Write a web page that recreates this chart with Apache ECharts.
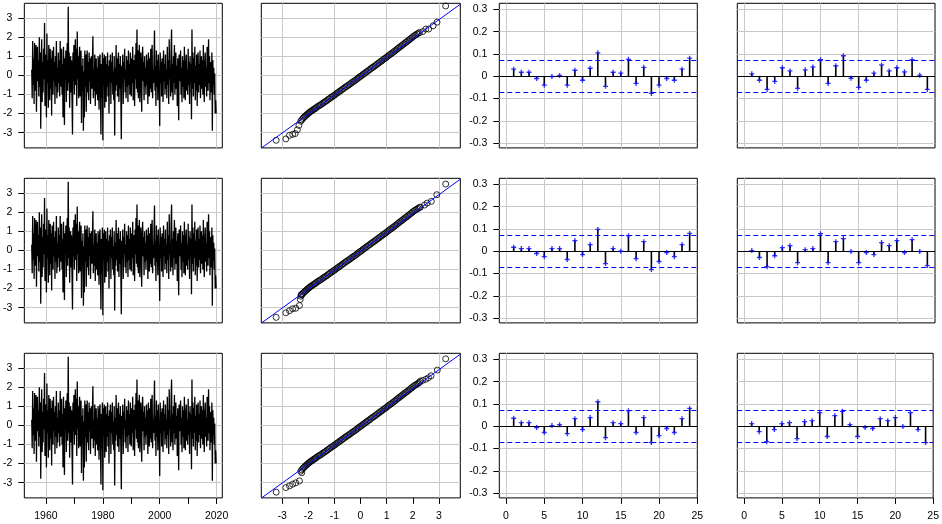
<!DOCTYPE html>
<html><head><meta charset="utf-8">
<script src="https://cdn.jsdelivr.net/npm/echarts@6.0.0/dist/echarts.min.js"></script>
<style>html,body{margin:0;padding:0;background:#fff}#c{width:942px;height:524px}</style>
</head><body><div id="c"></div>
<script>
// ---------- DATA ----------
const tsStart = 1955;      // first observation
const tsPerYear = 6;       // observations per year
const residuals = [
 0.3,-1.2,1.8,-0.5,0.9,-1.5,
 1.7,-0.8,0.2,1.6,-1.9,0.5,
 1.5,-0.3,0.8,-1.1,2.0,-0.6,
 1.2,-2.8,0.4,1.9,-1.4,0.7,
 -0.9,1.4,-0.2,2.75,-1.6,0.3,
 1.1,-2.2,2.2,-0.4,0.8,-1.7,
 1.6,0.2,-1.3,1.4,-0.7,0.9,
 -2.1,1.3,0.5,-1.0,1.5,-0.3,
 0.7,-1.5,1.0,-0.6,1.8,-1.2,
 0.4,-0.9,1.2,-0.4,0.8,-1.1,
 1.8,-0.6,0.3,1.4,-1.0,0.6,
 -2.2,1.5,-0.5,-2.6,0.9,-0.2,
 1.3,-1.4,0.6,1.7,-0.8,3.6,
 -0.4,1.2,-1.7,0.5,1.0,-0.9,
 0.8,-1.3,-3.1,1.2,-0.3,1.6,
 -1.0,0.7,1.9,-0.5,1.4,-1.6,
 2.3,-0.2,1.0,-1.2,0.6,1.5,
 -1.1,0.3,1.3,-2.5,0.5,-0.8,
 0.9,-2.9,0.2,-2.2,1.3,-0.6,
 1.1,-1.9,0.4,1.3,-0.9,0.7,
 -1.3,1.2,-0.3,0.9,-1.5,0.4,
 1.0,-0.7,0.6,2.05,-1.2,0.3,
 -0.8,1.1,-1.6,0.5,0.9,-1.0,
 0.4,-1.3,1.0,-0.2,-1.8,0.8,
 1.1,-0.9,-3.1,0.6,-1.2,1.2,
 -3.4,0.9,-0.5,1.1,-1.7,0.3,
 1.0,-1.4,0.6,-0.6,1.2,-1.1,
 0.5,-2.0,0.8,-0.3,1.1,-1.5,
 0.7,-0.4,1.2,-1.0,0.2,-1.3,
 1.0,-3.15,0.4,-0.8,1.6,-0.5,
 0.9,-1.1,0.3,1.2,-1.4,0.6,
 -0.7,1.0,-1.2,-3.35,0.5,-0.4,
 1.1,-1.5,0.7,-0.2,1.4,-0.9,
 0.3,-1.2,1.0,-0.6,0.8,-1.4,
 1.3,-0.5,0.6,-1.0,1.2,-0.3,
 -1.1,0.9,-0.4,1.5,-1.3,0.5,
 0.8,-1.6,1.1,-0.2,1.7,-0.7,
 2.4,-0.9,1.3,-1.2,0.6,1.6,
 -1.4,0.4,1.2,-0.8,-1.9,0.9,
 1.5,-0.3,0.7,-1.3,1.0,-0.6,
 0.4,-1.0,1.1,-0.5,0.8,-1.5,
 1.2,-0.2,-1.1,0.9,-0.7,1.4,
 -0.9,0.6,1.6,-1.2,0.3,-0.4,
 1.0,2.35,-0.8,0.5,-1.6,1.3,
 -0.6,0.8,-1.3,1.1,0.2,-0.9,
 -2.65,1.2,-0.4,0.7,-1.1,0.9,
 0.5,-1.4,1.3,-0.3,0.6,-1.0,
 1.1,-0.7,0.3,-1.2,1.5,-0.5,
 0.8,-1.5,1.9,-0.2,0.4,-1.1,
 1.4,2.4,-0.9,0.6,-1.3,1.0,
 -0.4,1.6,-1.0,0.3,1.2,-0.7,
 0.5,-1.6,0.9,-0.5,-2.35,1.1,
 0.7,-0.3,1.3,-1.0,0.4,-1.4,
 1.0,-0.6,0.8,-1.2,1.5,-0.2,
 -1.3,0.6,1.1,-0.8,0.3,-1.0,
 1.4,-0.5,0.7,-1.5,1.0,-0.3,
 0.6,-2.3,2.4,-0.7,1.2,-1.1,
 0.9,-0.4,1.5,-1.3,0.5,-0.8,
 1.1,-1.6,0.3,1.2,-0.9,0.6,
 -0.5,1.3,-1.2,0.4,1.0,-0.7,
 0.8,-1.0,1.6,-0.3,-1.4,0.5,
 1.2,-0.6,0.4,-1.1,1.5,-0.2,
 -0.8,1.9,-0.4,1.0,-1.3,0.7,
 0.3,-0.9,1.2,-2.9,0.8,-0.5,
 0.4,-1.0,0.1,-2.0,-1.3,-2.0
];

// normal QQ: [theoretical quantile, sample quantile]
const qqBand = [
 [-2.29,-2.40],[-2.25,-2.33],[-2.21,-2.26],[-2.17,-2.20],[-2.13,-2.15],[-2.09,-2.10],[-2.05,-2.05],[-2.01,-2.00],
 [-1.97,-1.96],[-1.93,-1.91],[-1.89,-1.87],[-1.85,-1.84],[-1.81,-1.80],[-1.77,-1.76],[-1.73,-1.73],[-1.69,-1.68],
 [-1.64,-1.63],[-1.59,-1.59],[-1.54,-1.55],[-1.49,-1.51],[-1.44,-1.45],[-1.39,-1.41],[-1.34,-1.36],[-1.29,-1.32],
 [-1.24,-1.26],[-1.19,-1.22],[-1.14,-1.16],[-1.09,-1.12],[-1.04,-1.07],[-0.99,-1.03],[-0.94,-0.97],[-0.89,-0.92],
 [-0.84,-0.88],[-0.79,-0.82],[-0.74,-0.78],[-0.69,-0.72],[-0.64,-0.68],[-0.59,-0.62],[-0.54,-0.58],[-0.49,-0.53],
 [-0.44,-0.49],[-0.39,-0.44],[-0.34,-0.38],[-0.29,-0.34],[-0.24,-0.29],[-0.19,-0.25],[-0.14,-0.19],[-0.09,-0.14],
 [-0.04,-0.08],[0.01,-0.04],[0.06,0.01],[0.11,0.07],[0.16,0.11],[0.21,0.17],[0.26,0.21],[0.31,0.27],
 [0.36,0.31],[0.41,0.37],[0.46,0.42],[0.51,0.46],[0.56,0.51],[0.61,0.56],[0.66,0.62],[0.71,0.66],
 [0.76,0.72],[0.81,0.76],[0.86,0.82],[0.91,0.87],[0.96,0.91],[1.01,0.97],[1.06,1.02],[1.11,1.08],
 [1.16,1.12],[1.21,1.18],[1.26,1.22],[1.31,1.28],[1.36,1.33],[1.41,1.39],[1.46,1.44],[1.51,1.50],
 [1.56,1.54],[1.61,1.60],[1.66,1.65],[1.71,1.71],[1.76,1.75],[1.81,1.81],[1.86,1.86],[1.91,1.92],
 [1.96,1.97],[2.01,2.03],[2.06,2.08],[2.11,2.12],[2.16,2.17],[2.21,2.21],[2.26,2.25]
];
const qqTailRow1 = [[-3.23,-3.40],[-2.86,-3.33],[-2.72,-3.14],[-2.60,-3.09],[-2.50,-3.05],[-2.42,-2.85],[-2.36,-2.62],
 [2.38,2.30],[2.50,2.43],[2.61,2.43],[2.78,2.60],[2.93,2.79],[3.26,3.64]];
const qqTailRow2 = [[-3.23,-3.51],[-2.86,-3.27],[-2.72,-3.16],[-2.60,-3.06],[-2.48,-3.03],[-2.34,-2.89],[-2.31,-2.57],[-2.27,-2.31],
 [2.29,2.27],[2.45,2.38],[2.55,2.48],[2.71,2.57],[2.92,2.92],[3.26,3.48]];
const qqTailRow3 = [[-3.23,-3.50],[-2.86,-3.26],[-2.72,-3.17],[-2.60,-3.08],[-2.48,-3.01],[-2.34,-2.91],[-2.25,-2.48],
 [2.29,2.32],[2.38,2.36],[2.50,2.42],[2.60,2.50],[2.70,2.60],[2.94,2.90],[3.26,3.49]];
const qqLineIntercept = -0.05;
const qqLineSlope = 0.99;

const lags = [1,2,3,4,5,6,7,8,9,10,11,12,13,14,15,16,17,18,19,20,21,22,23,24];
const acfRow1 = [0.032,0.018,0.018,-0.010,-0.040,-0.001,0.004,-0.040,0.027,-0.018,0.036,0.105,-0.045,0.018,0.014,0.076,-0.032,0.040,-0.077,-0.040,-0.010,-0.018,0.032,0.081];
const acfRow2 = [0.018,0.012,0.012,-0.010,-0.024,0.012,0.012,-0.037,0.048,-0.015,0.030,0.098,-0.055,0.012,0.000,0.070,-0.033,0.043,-0.082,-0.046,-0.006,-0.024,0.030,0.080];
const acfRow3 = [0.036,0.016,0.016,-0.006,-0.028,0.003,0.007,-0.033,0.034,-0.015,0.039,0.110,-0.051,0.016,0.012,0.070,-0.028,0.039,-0.073,-0.042,-0.010,-0.028,0.034,0.080];
const pacfRow1 = [0.011,-0.018,-0.059,-0.023,0.038,0.024,-0.054,0.029,0.042,0.074,-0.032,0.047,0.092,-0.009,-0.050,-0.018,0.014,0.051,0.024,0.038,0.020,0.074,0.005,-0.059];
const pacfRow2 = [0.003,-0.028,-0.069,-0.020,0.016,0.025,-0.051,0.007,0.012,0.079,-0.051,0.043,0.057,-0.001,-0.051,-0.006,-0.015,0.039,0.025,0.048,-0.006,0.052,-0.001,-0.064];
const pacfRow3 = [0.012,-0.024,-0.069,-0.015,0.012,0.016,-0.055,0.021,0.025,0.061,-0.046,0.048,0.067,0.007,-0.046,-0.006,-0.010,0.034,0.025,0.039,-0.001,0.061,-0.015,-0.073];
const ciBound = 0.07;

const yearTicks = [1960,1970,1980,1990,2000,2010,2020];
const yearLabels = [1960,1980,2000,2020];
const yearGrid = [1960,1980,2000,2020];
const resTicks = [-3,-2,-1,0,1,2,3];
const qqXTicks = [-3,-2,-1,0,1,2,3];
const qqXGrid = [-3,-1,1,3];
const lagTicks = [0,5,10,15,20,25];
const lagGrid = [0,5,10,15,20];
const acfTicks = [-0.3,-0.2,-0.1,0,0.1,0.2,0.3];

// ---------- LAYOUT ----------
const colLeft = [23, 261.3, 499.3, 737.3];
const colWidth = [199.3, 199, 198, 197.7];
const rowTop = [3.3, 178.3, 353.3];
const rowHeight = 144.6;
const colXRange = [[1952.4, 2022.0], [-3.8, 3.82], [-0.88, 25], [-0.9, 25]];
const colYRange = [[-3.8, 3.78], [-3.8, 3.78], [-0.321, 0.327], [-0.321, 0.327]];
const FONT = 'Liberation Sans';
const GRIDCOL = '#c8c8c8';

const qqTails = [qqTailRow1, qqTailRow2, qqTailRow3];
const acfRows = [acfRow1, acfRow2, acfRow3];
const pacfRows = [pacfRow1, pacfRow2, pacfRow3];

const grids = [], xAxes = [], yAxes = [], series = [];
const plusPath = 'path://M2.2,0H3.8V2.2H6V3.8H3.8V6H2.2V3.8H0V2.2H2.2Z';
const fmt = v => String(Math.round(v * 10) / 10);

function gridLines(xs, ys) {
  return {
    silent: true, symbol: 'none', z: 1, animation: false,
    label: {show: false}, emphasis: {disabled: true},
    lineStyle: {color: GRIDCOL, width: 1, type: 'solid'},
    data: xs.map(v => ({xAxis: v})).concat(ys.map(v => ({yAxis: v})))
  };
}

for (let r = 0; r < 3; r++) {
  for (let c = 0; c < 4; c++) {
    const p = r * 4 + c;
    const bottom = r === 2;
    grids.push({left: colLeft[c], top: rowTop[r], width: colWidth[c], height: rowHeight,
      show: true, borderColor: '#000', borderWidth: 1, backgroundColor: 'transparent'});
    let xt, xl;
    if (c === 0) { xt = yearTicks; xl = yearLabels; }
    else if (c === 1) { xt = qqXTicks; xl = qqXTicks; }
    else { xt = lagTicks; xl = lagTicks; }
    xAxes.push({
      gridIndex: p, type: 'value', position: 'bottom', min: colXRange[c][0], max: colXRange[c][1],
      axisLine: {show: false, onZero: false}, splitLine: {show: false},
      axisTick: {show: bottom, customValues: xt, length: 6, lineStyle: {color: '#000', width: 1}},
      axisLabel: {show: bottom, customValues: xl, margin: 13, color: '#000', fontSize: 10.5, fontFamily: FONT,
        formatter: v => String(v)}
    });
    const yShow = (c === 0 || c === 2);
    const yt = (c === 0) ? resTicks : acfTicks;
    yAxes.push({
      gridIndex: p, type: 'value', position: 'left', min: colYRange[c][0], max: colYRange[c][1],
      axisLine: {show: false, onZero: false}, splitLine: {show: false},
      axisTick: {show: yShow, customValues: yt, length: 6, lineStyle: {color: '#000', width: 1}},
      axisLabel: {show: yShow, customValues: yt, margin: 12, color: '#000', fontSize: 10.5, fontFamily: FONT,
        formatter: fmt}
    });

    if (c === 0) {
      series.push({
        type: 'line', xAxisIndex: p, yAxisIndex: p, z: 2,
        data: residuals.map((v, i) => [tsStart + i / tsPerYear, v]),
        showSymbol: false, symbol: 'none', sampling: null,
        lineStyle: {color: '#000', width: 1.3}, silent: true,
        markLine: gridLines(yearGrid, resTicks)
      });
    } else if (c === 1) {
      series.push({
        type: 'scatter', xAxisIndex: p, yAxisIndex: p, z: 2,
        data: qqBand.concat(qqTails[r]),
        symbol: 'circle', symbolSize: 6, silent: true,
        itemStyle: {color: 'rgba(255,255,255,0)', borderColor: '#000', borderWidth: 1},
        markLine: gridLines(qqXGrid, resTicks)
      });
      const x0 = colXRange[1][0], x1 = colXRange[1][1];
      series.push({
        type: 'line', xAxisIndex: p, yAxisIndex: p, z: 3, silent: true,
        data: [[x0, qqLineIntercept + qqLineSlope * x0], [x1, qqLineIntercept + qqLineSlope * x1]],
        showSymbol: false, symbol: 'none', lineStyle: {color: '#0000ff', width: 1}
      });
    } else {
      const vals = (c === 2) ? acfRows[r] : pacfRows[r];
      const pts = lags.map((l, i) => [l, vals[i]]);
      series.push({
        type: 'bar', xAxisIndex: p, yAxisIndex: p, z: 2, silent: true,
        data: pts, barWidth: 1.6, itemStyle: {color: '#000'},
        markLine: gridLines(lagGrid, acfTicks)
      });
      series.push({
        type: 'scatter', xAxisIndex: p, yAxisIndex: p, z: 5, silent: true,
        data: pts, symbol: plusPath, symbolSize: 5, itemStyle: {color: '#0000ff'},
        markLine: {
          silent: true, symbol: 'none', z: 3, animation: false, label: {show: false},
          emphasis: {disabled: true},
          data: [
            {yAxis: 0, lineStyle: {color: '#000', width: 1, type: 'solid'}},
            {yAxis: ciBound, lineStyle: {color: '#0000ff', width: 1, type: [5, 3]}},
            {yAxis: -ciBound, lineStyle: {color: '#0000ff', width: 1, type: [5, 3]}}
          ]
        }
      });
    }
  }
}

const chart = echarts.init(document.getElementById('c'), null, {renderer: 'canvas', width: 942, height: 524});
chart.setOption({
  animation: false,
  backgroundColor: '#fff',
  grid: grids, xAxis: xAxes, yAxis: yAxes, series: series
});
</script>
</body></html>
